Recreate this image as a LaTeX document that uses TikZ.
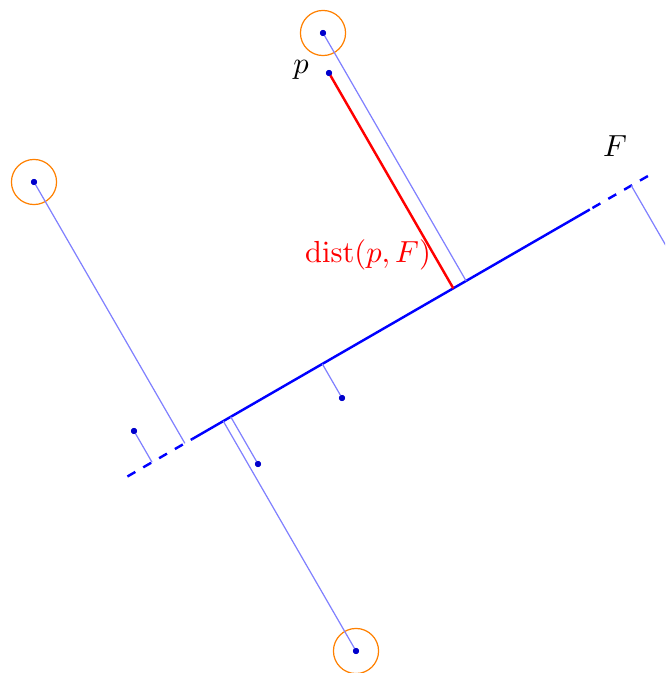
\documentclass[tikz,border=0pt]{standalone}
\usetikzlibrary{calc}
\begin{document}
\begin{tikzpicture}[x=0.328pt,y=-0.328pt,
  pt/.style={circle,fill=blue!80!black,inner sep=0pt,minimum size=2pt},
  ring/.style={draw=orange,thin,circle,minimum size=14.8pt,inner sep=0pt},
  proj/.style={blue!50,thin},
  fline/.style={blue,thick},
  lbl/.style={inner sep=0pt}]
\useasboundingbox (0,0) rectangle (665,673);
\clip (0,0) rectangle (665,673);
% line F
\coordinate (L1) at (127.4,476.5);
\coordinate (S1) at (192.3,439);
\coordinate (S2) at (589.8,209.5);
\coordinate (L2) at (647.9,176);
\draw[fline] (S1) -- (S2);
\draw[fline,dashed] (L1) -- (S1);
\draw[fline,dashed] (L2) -- (S2);
% points
\node[pt] (p) at (329,73) {};
\node[pt] (c1) at (323,33) {};
\node[ring] (r1) at (c1) {};
\node[pt] (c2) at (34,182) {};
\node[ring] (r2) at (c2) {};
\node[pt] (c3) at (356,651) {};
\node[ring] (r3) at (c3) {};
\node[pt] (d1) at (258,464) {};
\node[pt] (d2) at (342,398) {};
\node[pt] (d3) at (134,431) {};
\node[pt] (d4) at (706,315) {};
% feet
\coordinate (fp) at ($(L1)!(p)!(L2)$);
\coordinate (f1) at ($(L1)!(c1)!(L2)$);
\coordinate (f2) at ($(L1)!(c2)!(L2)$);
\coordinate (f3) at ($(L1)!(c3)!(L2)$);
\coordinate (g1) at ($(L1)!(d1)!(L2)$);
\coordinate (g2) at ($(L1)!(d2)!(L2)$);
\coordinate (g3) at ($(L1)!(d3)!(L2)$);
\coordinate (g4) at ($(L1)!(d4)!(L2)$);
% projections
\draw[proj] (c1.center) -- (f1);
\draw[proj] (c2.center) -- (f2);
\draw[proj] (c3.center) -- (f3);
\draw[proj] (d1.center) -- (g1);
\draw[proj] (d2.center) -- (g2);
\draw[proj] (d3.center) -- (g3);
\draw[proj] (d4.center) -- (g4);
\draw[red,thick] (p.center) -- (fp);
% redraw dots on top
\foreach \n in {p,c1,c2,c3,d1,d2,d3}{\fill[blue!80!black] (\n.center) circle (1pt);}
% labels
\node[lbl] (lp) at (301,70) {$p$};
\node[lbl] (lF) at (615,146) {$F$};
\node[lbl,text=red] (ld) at (368,255) {$\mathrm{dist}(p,F)$};
\end{tikzpicture}
\end{document}
